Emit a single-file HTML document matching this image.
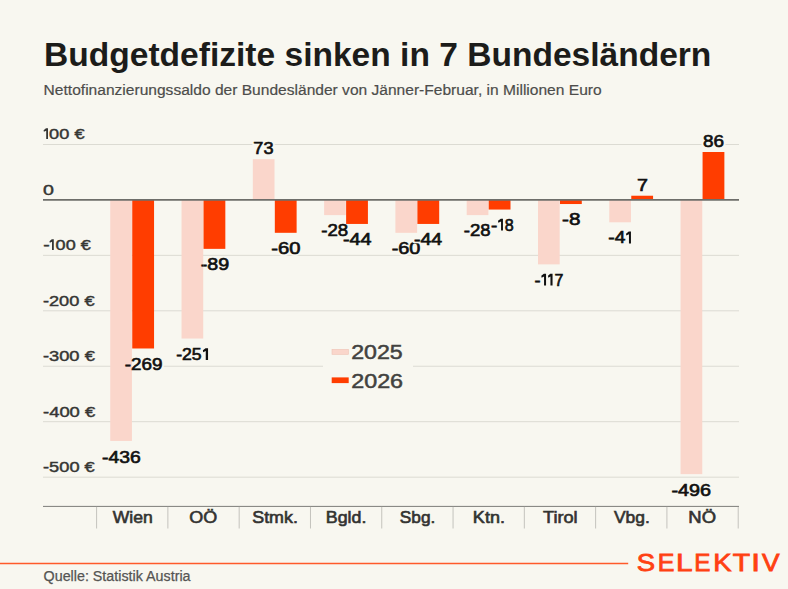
<!DOCTYPE html>
<html><head><meta charset="utf-8"><style>
html,body{margin:0;padding:0;background:#f8f7f0;overflow:hidden;width:788px;height:589px;}
svg{display:block;font-family:"Liberation Sans", sans-serif;}
</style></head><body>
<svg width="788" height="589" viewBox="0 0 788 589">
<rect width="788" height="589" fill="#f8f7f0"/>
<line x1="43" x2="739" y1="144.5" y2="144.5" stroke="#dcdbd3" stroke-width="1"/>
<line x1="43" x2="739" y1="255.35" y2="255.35" stroke="#dcdbd3" stroke-width="1"/>
<line x1="43" x2="739" y1="310.8" y2="310.8" stroke="#dcdbd3" stroke-width="1"/>
<line x1="43" x2="739" y1="366.25" y2="366.25" stroke="#dcdbd3" stroke-width="1"/>
<line x1="43" x2="739" y1="421.7" y2="421.7" stroke="#dcdbd3" stroke-width="1"/>
<line x1="43" x2="739" y1="477.2" y2="477.2" stroke="#dcdbd3" stroke-width="1"/>
<text x="102.02" y="462.75" font-size="16.4" fill="#f8f7f0" textLength="38.64" lengthAdjust="spacingAndGlyphs" stroke="#f8f7f0" stroke-width="4.2" stroke-linejoin="round">-436</text>
<text x="102.02" y="462.75" font-size="16.4" fill="#111" textLength="38.64" lengthAdjust="spacingAndGlyphs" stroke="#111" stroke-width="0.65">-436</text>
<text x="124.74" y="369.98" font-size="16.4" fill="#f8f7f0" textLength="37.70" lengthAdjust="spacingAndGlyphs" stroke="#f8f7f0" stroke-width="4.2" stroke-linejoin="round">-269</text>
<text x="124.74" y="369.98" font-size="16.4" fill="#111" textLength="37.70" lengthAdjust="spacingAndGlyphs" stroke="#111" stroke-width="0.65">-269</text>
<text x="176.19" y="359.98" font-size="16.4" fill="#f8f7f0" textLength="25.46" lengthAdjust="spacingAndGlyphs" stroke="#f8f7f0" stroke-width="4.2" stroke-linejoin="round">-25</text>
<path d="M202.90,350.28 L205.55,348.18 L208.05,348.18 L208.05,360.03 L205.75,360.03 L205.75,350.88 L203.20,352.18 Z" fill="#f8f7f0" stroke="#f8f7f0" stroke-width="4.2" stroke-linejoin="round"/>
<text x="176.19" y="359.98" font-size="16.4" fill="#111" textLength="25.46" lengthAdjust="spacingAndGlyphs" stroke="#111" stroke-width="0.65">-25</text>
<path d="M202.90,350.28 L205.55,348.18 L208.05,348.18 L208.05,360.03 L205.75,360.03 L205.75,350.88 L203.20,352.18 Z" fill="#111"/>
<text x="200.70" y="269.99" font-size="16.4" fill="#f8f7f0" textLength="28.44" lengthAdjust="spacingAndGlyphs" stroke="#f8f7f0" stroke-width="4.2" stroke-linejoin="round">-89</text>
<text x="200.70" y="269.99" font-size="16.4" fill="#111" textLength="28.44" lengthAdjust="spacingAndGlyphs" stroke="#111" stroke-width="0.65">-89</text>
<text x="253.37" y="154.1" font-size="16.4" fill="#f8f7f0" textLength="20.14" lengthAdjust="spacingAndGlyphs" stroke="#f8f7f0" stroke-width="4.2" stroke-linejoin="round">73</text>
<text x="253.37" y="154.1" font-size="16.4" fill="#111" textLength="20.14" lengthAdjust="spacingAndGlyphs" stroke="#111" stroke-width="0.65">73</text>
<text x="271.38" y="253.88" font-size="16.4" fill="#f8f7f0" textLength="29.19" lengthAdjust="spacingAndGlyphs" stroke="#f8f7f0" stroke-width="4.2" stroke-linejoin="round">-60</text>
<text x="271.38" y="253.88" font-size="16.4" fill="#111" textLength="29.19" lengthAdjust="spacingAndGlyphs" stroke="#111" stroke-width="0.65">-60</text>
<text x="321.25" y="236.1" font-size="16.4" fill="#f8f7f0" textLength="26.95" lengthAdjust="spacingAndGlyphs" stroke="#f8f7f0" stroke-width="4.2" stroke-linejoin="round">-28</text>
<text x="321.25" y="236.1" font-size="16.4" fill="#111" textLength="26.95" lengthAdjust="spacingAndGlyphs" stroke="#111" stroke-width="0.65">-28</text>
<text x="343.00" y="244.99" font-size="16.4" fill="#f8f7f0" textLength="28.55" lengthAdjust="spacingAndGlyphs" stroke="#f8f7f0" stroke-width="4.2" stroke-linejoin="round">-44</text>
<text x="343.00" y="244.99" font-size="16.4" fill="#111" textLength="28.55" lengthAdjust="spacingAndGlyphs" stroke="#111" stroke-width="0.65">-44</text>
<text x="391.69" y="253.88" font-size="16.4" fill="#f8f7f0" textLength="28.76" lengthAdjust="spacingAndGlyphs" stroke="#f8f7f0" stroke-width="4.2" stroke-linejoin="round">-60</text>
<text x="391.69" y="253.88" font-size="16.4" fill="#111" textLength="28.76" lengthAdjust="spacingAndGlyphs" stroke="#111" stroke-width="0.65">-60</text>
<text x="413.91" y="244.99" font-size="16.4" fill="#f8f7f0" textLength="28.23" lengthAdjust="spacingAndGlyphs" stroke="#f8f7f0" stroke-width="4.2" stroke-linejoin="round">-44</text>
<text x="413.91" y="244.99" font-size="16.4" fill="#111" textLength="28.23" lengthAdjust="spacingAndGlyphs" stroke="#111" stroke-width="0.65">-44</text>
<text x="463.85" y="236.1" font-size="16.4" fill="#f8f7f0" textLength="26.85" lengthAdjust="spacingAndGlyphs" stroke="#f8f7f0" stroke-width="4.2" stroke-linejoin="round">-28</text>
<text x="463.85" y="236.1" font-size="16.4" fill="#111" textLength="26.85" lengthAdjust="spacingAndGlyphs" stroke="#111" stroke-width="0.65">-28</text>
<text x="491.04" y="230.55" font-size="16.4" fill="#f8f7f0" textLength="6.29" lengthAdjust="spacingAndGlyphs" stroke="#f8f7f0" stroke-width="4.2" stroke-linejoin="round">-</text>
<path d="M498.00,220.85 L500.85,218.75 L502.95,218.75 L502.95,230.60 L501.05,230.60 L501.05,221.45 L498.30,222.75 Z" fill="#f8f7f0" stroke="#f8f7f0" stroke-width="4.2" stroke-linejoin="round"/>
<text x="504.66" y="230.55" font-size="16.4" fill="#f8f7f0" textLength="8.95" lengthAdjust="spacingAndGlyphs" stroke="#f8f7f0" stroke-width="4.2" stroke-linejoin="round">8</text>
<text x="491.04" y="230.55" font-size="16.4" fill="#111" textLength="6.29" lengthAdjust="spacingAndGlyphs" stroke="#111" stroke-width="0.65">-</text>
<path d="M498.00,220.85 L500.85,218.75 L502.95,218.75 L502.95,230.60 L501.05,230.60 L501.05,221.45 L498.30,222.75 Z" fill="#111"/>
<text x="504.66" y="230.55" font-size="16.4" fill="#111" textLength="8.95" lengthAdjust="spacingAndGlyphs" stroke="#111" stroke-width="0.65">8</text>
<text x="534.47" y="285.54" font-size="16.4" fill="#f8f7f0" textLength="6.02" lengthAdjust="spacingAndGlyphs" stroke="#f8f7f0" stroke-width="4.2" stroke-linejoin="round">-</text>
<path d="M541.30,275.84 L543.85,273.74 L546.05,273.74 L546.05,285.59 L544.05,285.59 L544.05,276.44 L541.60,277.74 Z" fill="#f8f7f0" stroke="#f8f7f0" stroke-width="4.2" stroke-linejoin="round"/>
<path d="M548.00,275.84 L550.25,273.74 L552.55,273.74 L552.55,285.59 L550.45,285.59 L550.45,276.44 L548.30,277.74 Z" fill="#f8f7f0" stroke="#f8f7f0" stroke-width="4.2" stroke-linejoin="round"/>
<text x="554.47" y="285.54" font-size="16.4" fill="#f8f7f0" textLength="8.88" lengthAdjust="spacingAndGlyphs" stroke="#f8f7f0" stroke-width="4.2" stroke-linejoin="round">7</text>
<text x="534.47" y="285.54" font-size="16.4" fill="#111" textLength="6.02" lengthAdjust="spacingAndGlyphs" stroke="#111" stroke-width="0.65">-</text>
<path d="M541.30,275.84 L543.85,273.74 L546.05,273.74 L546.05,285.59 L544.05,285.59 L544.05,276.44 L541.60,277.74 Z" fill="#111"/>
<path d="M548.00,275.84 L550.25,273.74 L552.55,273.74 L552.55,285.59 L550.45,285.59 L550.45,276.44 L548.30,277.74 Z" fill="#111"/>
<text x="554.47" y="285.54" font-size="16.4" fill="#111" textLength="8.88" lengthAdjust="spacingAndGlyphs" stroke="#111" stroke-width="0.65">7</text>
<text x="562.05" y="224.99" font-size="16.4" fill="#f8f7f0" textLength="18.39" lengthAdjust="spacingAndGlyphs" stroke="#f8f7f0" stroke-width="4.2" stroke-linejoin="round">-8</text>
<text x="562.05" y="224.99" font-size="16.4" fill="#111" textLength="18.39" lengthAdjust="spacingAndGlyphs" stroke="#111" stroke-width="0.65">-8</text>
<text x="608.32" y="243.33" font-size="16.4" fill="#f8f7f0" textLength="17.05" lengthAdjust="spacingAndGlyphs" stroke="#f8f7f0" stroke-width="4.2" stroke-linejoin="round">-4</text>
<path d="M626.00,233.63 L628.75,231.53 L630.95,231.53 L630.95,243.38 L628.95,243.38 L628.95,234.23 L626.30,235.53 Z" fill="#f8f7f0" stroke="#f8f7f0" stroke-width="4.2" stroke-linejoin="round"/>
<text x="608.32" y="243.33" font-size="16.4" fill="#111" textLength="17.05" lengthAdjust="spacingAndGlyphs" stroke="#111" stroke-width="0.65">-4</text>
<path d="M626.00,233.63 L628.75,231.53 L630.95,231.53 L630.95,243.38 L628.95,243.38 L628.95,234.23 L626.30,235.53 Z" fill="#111"/>
<text x="637.00" y="190.76" font-size="16.4" fill="#f8f7f0" textLength="10.95" lengthAdjust="spacingAndGlyphs" stroke="#f8f7f0" stroke-width="4.2" stroke-linejoin="round">7</text>
<text x="637.00" y="190.76" font-size="16.4" fill="#111" textLength="10.95" lengthAdjust="spacingAndGlyphs" stroke="#111" stroke-width="0.65">7</text>
<text x="671.50" y="496.08" font-size="16.4" fill="#f8f7f0" textLength="39.59" lengthAdjust="spacingAndGlyphs" stroke="#f8f7f0" stroke-width="4.2" stroke-linejoin="round">-496</text>
<text x="671.50" y="496.08" font-size="16.4" fill="#111" textLength="39.59" lengthAdjust="spacingAndGlyphs" stroke="#111" stroke-width="0.65">-496</text>
<text x="703.04" y="146.88" font-size="16.4" fill="#f8f7f0" textLength="21.01" lengthAdjust="spacingAndGlyphs" stroke="#f8f7f0" stroke-width="4.2" stroke-linejoin="round">86</text>
<text x="703.04" y="146.88" font-size="16.4" fill="#111" textLength="21.01" lengthAdjust="spacingAndGlyphs" stroke="#111" stroke-width="0.65">86</text>
<rect x="110.24" y="199.60" width="21.7" height="241.33" fill="#fad6cb"/>
<rect x="132.25" y="199.60" width="21.8" height="148.89" fill="#ff3d00"/>
<rect x="181.53" y="199.60" width="21.7" height="138.93" fill="#fad6cb"/>
<rect x="203.53" y="199.60" width="21.8" height="49.26" fill="#ff3d00"/>
<rect x="252.82" y="159.19" width="21.7" height="40.41" fill="#fad6cb"/>
<rect x="274.82" y="199.60" width="21.8" height="33.21" fill="#ff3d00"/>
<rect x="324.12" y="199.60" width="21.7" height="15.50" fill="#fad6cb"/>
<rect x="346.12" y="199.60" width="21.8" height="24.35" fill="#ff3d00"/>
<rect x="395.40" y="199.60" width="21.7" height="33.21" fill="#fad6cb"/>
<rect x="417.40" y="199.60" width="21.8" height="24.35" fill="#ff3d00"/>
<rect x="466.70" y="199.60" width="21.7" height="15.50" fill="#fad6cb"/>
<rect x="488.70" y="199.60" width="21.8" height="9.96" fill="#ff3d00"/>
<rect x="537.99" y="199.60" width="21.7" height="64.76" fill="#fad6cb"/>
<rect x="559.99" y="199.60" width="21.8" height="4.43" fill="#ff3d00"/>
<rect x="609.27" y="199.60" width="21.7" height="22.69" fill="#fad6cb"/>
<rect x="631.27" y="195.73" width="21.8" height="3.87" fill="#ff3d00"/>
<rect x="680.57" y="199.60" width="21.7" height="274.54" fill="#fad6cb"/>
<rect x="702.57" y="152.00" width="21.8" height="47.60" fill="#ff3d00"/>
<clipPath id="bc"><rect x="110.24" y="199.60" width="21.7" height="241.33" fill="#fad6cb"/><rect x="132.25" y="199.60" width="21.8" height="148.89" fill="#ff3d00"/><rect x="181.53" y="199.60" width="21.7" height="138.93" fill="#fad6cb"/><rect x="203.53" y="199.60" width="21.8" height="49.26" fill="#ff3d00"/><rect x="252.82" y="159.19" width="21.7" height="40.41" fill="#fad6cb"/><rect x="274.82" y="199.60" width="21.8" height="33.21" fill="#ff3d00"/><rect x="324.12" y="199.60" width="21.7" height="15.50" fill="#fad6cb"/><rect x="346.12" y="199.60" width="21.8" height="24.35" fill="#ff3d00"/><rect x="395.40" y="199.60" width="21.7" height="33.21" fill="#fad6cb"/><rect x="417.40" y="199.60" width="21.8" height="24.35" fill="#ff3d00"/><rect x="466.70" y="199.60" width="21.7" height="15.50" fill="#fad6cb"/><rect x="488.70" y="199.60" width="21.8" height="9.96" fill="#ff3d00"/><rect x="537.99" y="199.60" width="21.7" height="64.76" fill="#fad6cb"/><rect x="559.99" y="199.60" width="21.8" height="4.43" fill="#ff3d00"/><rect x="609.27" y="199.60" width="21.7" height="22.69" fill="#fad6cb"/><rect x="631.27" y="195.73" width="21.8" height="3.87" fill="#ff3d00"/><rect x="680.57" y="199.60" width="21.7" height="274.54" fill="#fad6cb"/><rect x="702.57" y="152.00" width="21.8" height="47.60" fill="#ff3d00"/></clipPath>
<g clip-path="url(#bc)">
<text x="102.02" y="462.75" font-size="16.4" fill="#111" textLength="38.64" lengthAdjust="spacingAndGlyphs" stroke="#111" stroke-width="0.65">-436</text>
<text x="124.74" y="369.98" font-size="16.4" fill="#111" textLength="37.70" lengthAdjust="spacingAndGlyphs" stroke="#111" stroke-width="0.65">-269</text>
<text x="176.19" y="359.98" font-size="16.4" fill="#111" textLength="25.46" lengthAdjust="spacingAndGlyphs" stroke="#111" stroke-width="0.65">-25</text>
<path d="M202.90,350.28 L205.55,348.18 L208.05,348.18 L208.05,360.03 L205.75,360.03 L205.75,350.88 L203.20,352.18 Z" fill="#111"/>
<text x="200.70" y="269.99" font-size="16.4" fill="#111" textLength="28.44" lengthAdjust="spacingAndGlyphs" stroke="#111" stroke-width="0.65">-89</text>
<text x="253.37" y="154.1" font-size="16.4" fill="#111" textLength="20.14" lengthAdjust="spacingAndGlyphs" stroke="#111" stroke-width="0.65">73</text>
<text x="271.38" y="253.88" font-size="16.4" fill="#111" textLength="29.19" lengthAdjust="spacingAndGlyphs" stroke="#111" stroke-width="0.65">-60</text>
<text x="321.25" y="236.1" font-size="16.4" fill="#111" textLength="26.95" lengthAdjust="spacingAndGlyphs" stroke="#111" stroke-width="0.65">-28</text>
<text x="343.00" y="244.99" font-size="16.4" fill="#111" textLength="28.55" lengthAdjust="spacingAndGlyphs" stroke="#111" stroke-width="0.65">-44</text>
<text x="391.69" y="253.88" font-size="16.4" fill="#111" textLength="28.76" lengthAdjust="spacingAndGlyphs" stroke="#111" stroke-width="0.65">-60</text>
<text x="413.91" y="244.99" font-size="16.4" fill="#111" textLength="28.23" lengthAdjust="spacingAndGlyphs" stroke="#111" stroke-width="0.65">-44</text>
<text x="463.85" y="236.1" font-size="16.4" fill="#111" textLength="26.85" lengthAdjust="spacingAndGlyphs" stroke="#111" stroke-width="0.65">-28</text>
<text x="491.04" y="230.55" font-size="16.4" fill="#111" textLength="6.29" lengthAdjust="spacingAndGlyphs" stroke="#111" stroke-width="0.65">-</text>
<path d="M498.00,220.85 L500.85,218.75 L502.95,218.75 L502.95,230.60 L501.05,230.60 L501.05,221.45 L498.30,222.75 Z" fill="#111"/>
<text x="504.66" y="230.55" font-size="16.4" fill="#111" textLength="8.95" lengthAdjust="spacingAndGlyphs" stroke="#111" stroke-width="0.65">8</text>
<text x="534.47" y="285.54" font-size="16.4" fill="#111" textLength="6.02" lengthAdjust="spacingAndGlyphs" stroke="#111" stroke-width="0.65">-</text>
<path d="M541.30,275.84 L543.85,273.74 L546.05,273.74 L546.05,285.59 L544.05,285.59 L544.05,276.44 L541.60,277.74 Z" fill="#111"/>
<path d="M548.00,275.84 L550.25,273.74 L552.55,273.74 L552.55,285.59 L550.45,285.59 L550.45,276.44 L548.30,277.74 Z" fill="#111"/>
<text x="554.47" y="285.54" font-size="16.4" fill="#111" textLength="8.88" lengthAdjust="spacingAndGlyphs" stroke="#111" stroke-width="0.65">7</text>
<text x="562.05" y="224.99" font-size="16.4" fill="#111" textLength="18.39" lengthAdjust="spacingAndGlyphs" stroke="#111" stroke-width="0.65">-8</text>
<text x="608.32" y="243.33" font-size="16.4" fill="#111" textLength="17.05" lengthAdjust="spacingAndGlyphs" stroke="#111" stroke-width="0.65">-4</text>
<path d="M626.00,233.63 L628.75,231.53 L630.95,231.53 L630.95,243.38 L628.95,243.38 L628.95,234.23 L626.30,235.53 Z" fill="#111"/>
<text x="637.00" y="190.76" font-size="16.4" fill="#111" textLength="10.95" lengthAdjust="spacingAndGlyphs" stroke="#111" stroke-width="0.65">7</text>
<text x="671.50" y="496.08" font-size="16.4" fill="#111" textLength="39.59" lengthAdjust="spacingAndGlyphs" stroke="#111" stroke-width="0.65">-496</text>
<text x="703.04" y="146.88" font-size="16.4" fill="#111" textLength="21.01" lengthAdjust="spacingAndGlyphs" stroke="#111" stroke-width="0.65">86</text>
</g>
<line x1="43" x2="739" y1="199.9" y2="199.9" stroke="#6e6e6a" stroke-width="1.7"/>
<rect x="323" y="340" width="90" height="52" fill="#f8f7f0"/>
<rect x="332" y="349.3" width="16.4" height="5.1" fill="#fad6cb" stroke="#efc3b6" stroke-width="0.6"/>
<rect x="331.7" y="377.4" width="17" height="5.7" fill="#ff3d00"/>
<line x1="43" x2="739" y1="506.4" y2="506.4" stroke="#7d7d79" stroke-width="1"/>
<line x1="96.60" x2="96.60" y1="506.9" y2="528.5" stroke="#c4c3bd" stroke-width="1"/>
<line x1="167.89" x2="167.89" y1="506.9" y2="528.5" stroke="#c4c3bd" stroke-width="1"/>
<line x1="239.18" x2="239.18" y1="506.9" y2="528.5" stroke="#c4c3bd" stroke-width="1"/>
<line x1="310.47" x2="310.47" y1="506.9" y2="528.5" stroke="#c4c3bd" stroke-width="1"/>
<line x1="381.76" x2="381.76" y1="506.9" y2="528.5" stroke="#c4c3bd" stroke-width="1"/>
<line x1="453.05" x2="453.05" y1="506.9" y2="528.5" stroke="#c4c3bd" stroke-width="1"/>
<line x1="524.34" x2="524.34" y1="506.9" y2="528.5" stroke="#c4c3bd" stroke-width="1"/>
<line x1="595.63" x2="595.63" y1="506.9" y2="528.5" stroke="#c4c3bd" stroke-width="1"/>
<line x1="666.92" x2="666.92" y1="506.9" y2="528.5" stroke="#c4c3bd" stroke-width="1"/>
<line x1="738.21" x2="738.21" y1="506.9" y2="528.5" stroke="#c4c3bd" stroke-width="1"/>
<line x1="0" x2="628.2" y1="563.5" y2="563.5" stroke="#ff5a2a" stroke-width="1.3"/>
<text x="44.10" y="65.8" font-size="33.6" font-weight="bold" fill="#1c1c1a" textLength="667.28" lengthAdjust="spacingAndGlyphs">Budgetdefizite sinken in 7 Bundesländern</text>
<text x="43.64" y="95.3" font-size="15.5" fill="#4d4d4b" textLength="558.01" lengthAdjust="spacingAndGlyphs" stroke="#4d4d4b" stroke-width="0.2">Nettofinanzierungssaldo der Bundesländer von Jänner-Februar, in Millionen Euro</text>
<text x="49.11" y="138.9" font-size="15.5" fill="#363634" textLength="35.39" lengthAdjust="spacingAndGlyphs" stroke="#363634" stroke-width="0.45">00 €</text>
<text x="43.07" y="194.7" font-size="15.5" fill="#363634" textLength="10.92" lengthAdjust="spacingAndGlyphs" stroke="#363634" stroke-width="0.45">0</text>
<text x="43.26" y="249.9" font-size="15.5" fill="#363634" textLength="6.48" lengthAdjust="spacingAndGlyphs" stroke="#363634" stroke-width="0.45">-</text>
<text x="55.62" y="249.9" font-size="15.5" fill="#363634" textLength="35.08" lengthAdjust="spacingAndGlyphs" stroke="#363634" stroke-width="0.45">00 €</text>
<text x="42.92" y="305.6" font-size="15.5" fill="#363634" textLength="51.62" lengthAdjust="spacingAndGlyphs" stroke="#363634" stroke-width="0.45">-200 €</text>
<text x="42.91" y="361.0" font-size="15.5" fill="#363634" textLength="51.93" lengthAdjust="spacingAndGlyphs" stroke="#363634" stroke-width="0.45">-300 €</text>
<text x="43.01" y="416.6" font-size="15.5" fill="#363634" textLength="52.23" lengthAdjust="spacingAndGlyphs" stroke="#363634" stroke-width="0.45">-400 €</text>
<text x="43.02" y="471.9" font-size="15.5" fill="#363634" textLength="51.72" lengthAdjust="spacingAndGlyphs" stroke="#363634" stroke-width="0.45">-500 €</text>
<text x="112.70" y="523.3" font-size="16" fill="#333331" textLength="40.05" lengthAdjust="spacingAndGlyphs" stroke="#333331" stroke-width="0.6">Wien</text>
<text x="189.36" y="523.3" font-size="16" fill="#333331" textLength="27.94" lengthAdjust="spacingAndGlyphs" stroke="#333331" stroke-width="0.6">OÖ</text>
<text x="252.26" y="523.3" font-size="16" fill="#333331" textLength="45.59" lengthAdjust="spacingAndGlyphs" stroke="#333331" stroke-width="0.6">Stmk.</text>
<text x="325.81" y="523.3" font-size="16" fill="#333331" textLength="40.52" lengthAdjust="spacingAndGlyphs" stroke="#333331" stroke-width="0.6">Bgld.</text>
<text x="399.79" y="523.3" font-size="16" fill="#333331" textLength="35.54" lengthAdjust="spacingAndGlyphs" stroke="#333331" stroke-width="0.6">Sbg.</text>
<text x="472.89" y="523.3" font-size="16" fill="#333331" textLength="32.06" lengthAdjust="spacingAndGlyphs" stroke="#333331" stroke-width="0.6">Ktn.</text>
<text x="543.02" y="523.3" font-size="16" fill="#333331" textLength="34.64" lengthAdjust="spacingAndGlyphs" stroke="#333331" stroke-width="0.6">Tirol</text>
<text x="614.00" y="523.3" font-size="16" fill="#333331" textLength="35.85" lengthAdjust="spacingAndGlyphs" stroke="#333331" stroke-width="0.6">Vbg.</text>
<text x="688.36" y="523.3" font-size="16" fill="#333331" textLength="27.71" lengthAdjust="spacingAndGlyphs" stroke="#333331" stroke-width="0.6">NÖ</text>
<text x="351.24" y="359.4" font-size="20" fill="#424240" textLength="51.53" lengthAdjust="spacingAndGlyphs" stroke="#424240" stroke-width="0.5">2025</text>
<text x="351.24" y="387.7" font-size="20" fill="#424240" textLength="51.83" lengthAdjust="spacingAndGlyphs" stroke="#424240" stroke-width="0.5">2026</text>
<text x="43.62" y="581.4" font-size="13.8" fill="#555553" textLength="146.91" lengthAdjust="spacingAndGlyphs" stroke="#555553" stroke-width="0.25">Quelle: Statistik Austria</text>
<text x="636.85" y="571.4" font-size="23.6" fill="#ff4012" textLength="18.32" lengthAdjust="spacingAndGlyphs" stroke="#ff4012" stroke-width="0.8">S</text>
<text x="657.68" y="571.4" font-size="23.6" fill="#ff4012" textLength="16.68" lengthAdjust="spacingAndGlyphs" stroke="#ff4012" stroke-width="0.8">E</text>
<text x="676.08" y="571.4" font-size="23.6" fill="#ff4012" textLength="16.52" lengthAdjust="spacingAndGlyphs" stroke="#ff4012" stroke-width="0.8">L</text>
<text x="694.35" y="571.4" font-size="23.6" fill="#ff4012" textLength="16.18" lengthAdjust="spacingAndGlyphs" stroke="#ff4012" stroke-width="0.8">E</text>
<text x="713.18" y="571.4" font-size="23.6" fill="#ff4012" textLength="18.31" lengthAdjust="spacingAndGlyphs" stroke="#ff4012" stroke-width="0.8">K</text>
<text x="732.70" y="571.4" font-size="23.6" fill="#ff4012" textLength="17.31" lengthAdjust="spacingAndGlyphs" stroke="#ff4012" stroke-width="0.8">T</text>
<text x="751.30" y="571.4" font-size="23.6" fill="#ff4012" textLength="8.75" lengthAdjust="spacingAndGlyphs" stroke="#ff4012" stroke-width="0.8">I</text>
<text x="762.12" y="571.4" font-size="23.6" fill="#ff4012" textLength="17.56" lengthAdjust="spacingAndGlyphs" stroke="#ff4012" stroke-width="0.8">V</text>
<path d="M43.60,130.20 L46.00,128.20 L48.00,128.20 L48.00,138.90 L46.20,138.90 L46.20,130.70 L43.90,131.80 Z" fill="#363634"/>
<path d="M49.50,241.20 L51.80,239.20 L53.80,239.20 L53.80,249.90 L52.00,249.90 L52.00,241.70 L49.80,242.80 Z" fill="#363634"/>
</svg>
</body></html>
